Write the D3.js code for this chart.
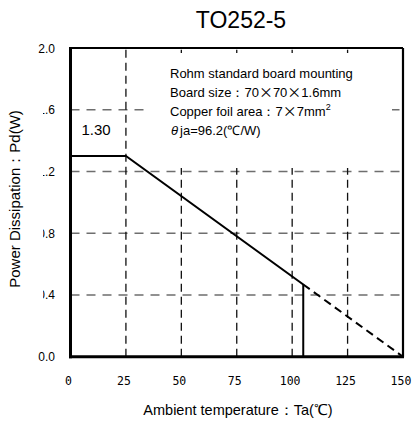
<!DOCTYPE html>
<html>
<head>
<meta charset="utf-8">
<script src="https://cdn.jsdelivr.net/npm/d3@7"></script>
<style>
  html, body { margin: 0; padding: 0; background: #fff; }
  svg { display: block; }
</style>
</head>
<body>
<svg id="chart" width="412" height="423"></svg>
<script>
// ---- data ----
const title = "TO252-5";
const xTicks = [0, 25, 50, 75, 100, 125, 150];
const yTicks = [0.0, 0.4, 0.8, 1.2, 1.6, 2.0];
const xGrid = [25, 50, 75, 100, 125];
const yGrid = [0.4, 0.8, 1.2, 1.6];
// solid derating curve (Ta in °C, Pd in W)
const solidTa = [0, 25, 105, 105];
const solidPd = [1.30, 1.30, 0.468, 0];
// dashed extrapolation
const dashTa = [105, 150];
const dashPd = [0.468, 0];
const peakLabel = "1.30";
const noteLine1 = ["Rohm standard board mounting"];
const noteLine2 = ["Board size：70", "×", "70", "×", "1.6mm"];
const noteLine3 = ["Copper foil area：7", "×", "7mm"];
const noteLine4 = "ja=96.2(℃/W)";
const xTitle = "Ambient temperature：Ta(℃)";
const yTitle = "Power Dissipation：Pd(W)";

// ---- drawing ----
const svg = d3.select("#chart");
const x = d3.scaleLinear().domain([0, 150]).range([70.5, 403]);
const y = d3.scaleLinear().domain([0, 2]).range([356.7, 48]);
const F = "Liberation Sans, Arial, sans-serif";
const CJK = "Noto Sans CJK JP, sans-serif";

// title
svg.append("text").attr("x", 241).attr("y", 28).attr("text-anchor", "middle")
  .attr("font-family", F).attr("font-size", 23).attr("fill", "#000").text(title);

// grid
svg.append("g").selectAll("line").data(yGrid).join("line")
  .attr("x1", x(0)).attr("x2", x(150))
  .attr("y1", d => y(d)).attr("y2", d => y(d))
  .attr("stroke", "#6e6e6e").attr("stroke-width", 1.5).attr("stroke-dasharray", "9,7");
svg.append("g").selectAll("line").data(xGrid).join("line")
  .attr("x1", d => x(d)).attr("x2", d => x(d))
  .attr("y1", y(0)).attr("y2", y(2))
  .attr("stroke", "#111").attr("stroke-width", 1.3).attr("stroke-dasharray", "8,5");

// white note box
svg.append("rect").attr("x", 150).attr("y", 53).attr("width", 242).attr("height", 115)
  .attr("fill", "#fff");

// frame
svg.append("line").attr("x1", x(0)).attr("x2", x(150)).attr("y1", y(2)).attr("y2", y(2))
  .attr("stroke", "#000").attr("stroke-width", 2.2);
svg.append("line").attr("x1", x(150)).attr("x2", x(150)).attr("y1", y(2)).attr("y2", y(0))
  .attr("stroke", "#000").attr("stroke-width", 2.2);
svg.append("line").attr("x1", x(0)).attr("x2", x(0)).attr("y1", y(2) - 1).attr("y2", y(0) + 1.5)
  .attr("stroke", "#000").attr("stroke-width", 3);
svg.append("line").attr("x1", x(0) - 1.5).attr("x2", x(150) + 1).attr("y1", y(0)).attr("y2", y(0))
  .attr("stroke", "#000").attr("stroke-width", 3);

// derating curve
const solidPts = solidTa.map((t, i) => [t, solidPd[i]]);
const dashPts = dashTa.map((t, i) => [t, dashPd[i]]);
const line = d3.line().x(d => x(d[0])).y(d => y(d[1]));
svg.append("path").attr("d", line(dashPts)).attr("fill", "none")
  .attr("stroke", "#000").attr("stroke-width", 2).attr("stroke-dasharray", "8,5");
svg.append("path").attr("d", line(solidPts)).attr("fill", "none")
  .attr("stroke", "#000").attr("stroke-width", 2);

// peak label
svg.append("text").attr("x", x(0) + 11).attr("y", 135)
  .attr("font-family", F).attr("font-size", 15).attr("fill", "#000").text(peakLabel);

// note text
const note = svg.append("g").attr("font-family", F).attr("font-size", 13).attr("fill", "#000");
const baseY = [78, 97, 116, 135];
function addParts(t, parts) {
  parts.forEach(p => {
    const s = t.append("tspan").text(p);
    if (p === "×") s.attr("font-family", CJK).attr("font-size", 14);
  });
}
addParts(note.append("text").attr("x", 170).attr("y", baseY[0]), noteLine1);
addParts(note.append("text").attr("x", 170).attr("y", baseY[1]), noteLine2);
const t3 = note.append("text").attr("x", 170).attr("y", baseY[2]);
addParts(t3, noteLine3);
t3.append("tspan").attr("font-size", 9).attr("dy", -6).text("2");
const t4 = note.append("text").attr("x", 171).attr("y", baseY[3]);
t4.append("tspan").attr("font-style", "italic").text("θ");
t4.append("tspan").attr("dx", 2).text(noteLine4);

// x tick labels
svg.append("g").selectAll("text").data(xTicks).join("text")
  .attr("x", d => x(d) - 2).attr("y", 384.5).attr("text-anchor", "middle")
  .attr("font-family", "DejaVu Sans Mono, monospace").attr("font-size", 11.5)
  .attr("fill", "#000").text(d => d);

// y tick labels (inner ones clipped at left like the reference)
const defs = svg.append("defs");
defs.append("clipPath").attr("id", "yclip").append("rect")
  .attr("x", 43).attr("y", 0).attr("width", 30).attr("height", 423);
svg.append("g").selectAll("text").data(yTicks).join("text")
  .attr("x", 55).attr("y", d => y(d) + 4.5).attr("text-anchor", "end")
  .attr("font-family", F).attr("font-size", 12).attr("fill", "#000")
  .attr("clip-path", d => (d === 0 || d === 2) ? null : "url(#yclip)")
  .text(d => d.toFixed(1));

// axis titles
svg.append("text").attr("x", 238).attr("y", 415).attr("text-anchor", "middle")
  .attr("font-family", F).attr("font-size", 14.5).attr("fill", "#000").text(xTitle);
svg.append("text").attr("transform", "translate(20,199) rotate(-90)")
  .attr("text-anchor", "middle")
  .attr("font-family", F).attr("font-size", 15).attr("fill", "#000").text(yTitle);
</script>
</body>
</html>
